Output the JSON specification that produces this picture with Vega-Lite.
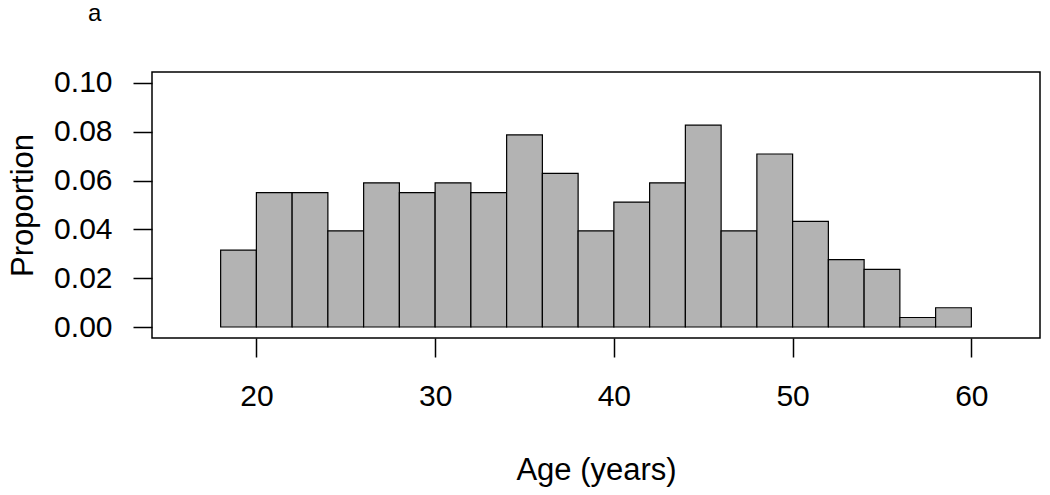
{
  "$schema": "https://vega.github.io/schema/vega-lite/v6.json",
  "width": 888,
  "height": 266,
  "autosize": {"type": "none"},
  "padding": {"left": 152, "top": 72, "right": 10, "bottom": 157},
  "background": "white",
  "title": {"text": "a", "anchor": "start", "frame": "group", "dx": -64, "offset": 23, "baseline": "alphabetic", "fontSize": 24, "fontWeight": "normal", "font": "Liberation Sans", "color": "black"},
  "config": {
    "view": {"stroke": "black", "strokeWidth": 1.5},
    "font": "Liberation Sans"
  },
  "data": {"values": [
    {"start": 18, "end": 20, "proportion": 0.0315},
    {"start": 20, "end": 22, "proportion": 0.0551},
    {"start": 22, "end": 24, "proportion": 0.0551},
    {"start": 24, "end": 26, "proportion": 0.0394},
    {"start": 26, "end": 28, "proportion": 0.0591},
    {"start": 28, "end": 30, "proportion": 0.0551},
    {"start": 30, "end": 32, "proportion": 0.0591},
    {"start": 32, "end": 34, "proportion": 0.0551},
    {"start": 34, "end": 36, "proportion": 0.0787},
    {"start": 36, "end": 38, "proportion": 0.0630},
    {"start": 38, "end": 40, "proportion": 0.0394},
    {"start": 40, "end": 42, "proportion": 0.0512},
    {"start": 42, "end": 44, "proportion": 0.0591},
    {"start": 44, "end": 46, "proportion": 0.0827},
    {"start": 46, "end": 48, "proportion": 0.0394},
    {"start": 48, "end": 50, "proportion": 0.0709},
    {"start": 50, "end": 52, "proportion": 0.0433},
    {"start": 52, "end": 54, "proportion": 0.0276},
    {"start": 54, "end": 56, "proportion": 0.0236},
    {"start": 56, "end": 58, "proportion": 0.0039},
    {"start": 58, "end": 60, "proportion": 0.0079}
  ]},
  "mark": {"type": "rect", "fill": "#b3b3b3", "stroke": "black", "strokeWidth": 1.2},
  "encoding": {
    "x": {"field": "start", "type": "quantitative",
      "scale": {"domain": [14.16, 63.84], "nice": false, "zero": false},
      "axis": {"values": [20, 30, 40, 50, 60], "domain": false, "grid": false, "tickSize": 19, "tickWidth": 1.5, "tickColor": "black",
        "labelFontSize": 30, "labelColor": "black", "labelPadding": 24, "labelFont": "Liberation Sans",
        "title": "Age (years)", "titleFontSize": 31, "titleFontWeight": "normal", "titleColor": "black", "titlePadding": 44, "titleFont": "Liberation Sans"}},
    "x2": {"field": "end"},
    "y": {"field": "proportion", "type": "quantitative",
      "scale": {"domain": [-0.0045, 0.1045], "nice": false, "zero": false},
      "axis": {"values": [0, 0.02, 0.04, 0.06, 0.08, 0.1], "format": ".2f", "domain": false, "grid": false, "tickSize": 19, "tickWidth": 1.5, "tickColor": "black",
        "labelFontSize": 30, "labelColor": "black", "labelPadding": 21, "labelFont": "Liberation Sans",
        "title": "Proportion", "titleFontSize": 31, "titleFontWeight": "normal", "titleColor": "black", "titlePadding": 14, "titleFont": "Liberation Sans"}},
    "y2": {"datum": 0}
  }
}
